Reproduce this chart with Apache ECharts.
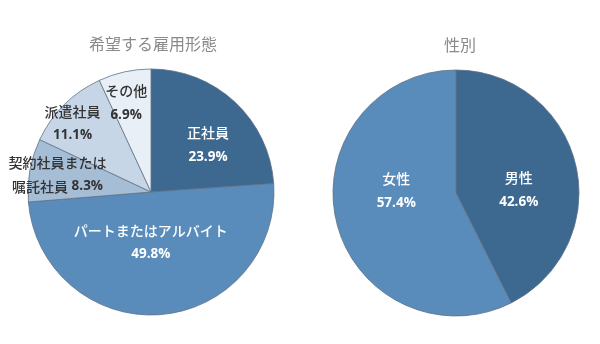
<!DOCTYPE html>
<html>
<head>
<meta charset="utf-8">
<script src="https://cdn.jsdelivr.net/npm/echarts@6/dist/echarts.min.js"></script>
<style>
  html, body { margin: 0; padding: 0; background: #fff; }
  #chart { width: 600px; height: 344px; }
</style>
</head>
<body>
<div id="chart"></div>
<script>
// Desired employment type (%)
const employmentNames = ['正社員', 'パートまたはアルバイト', '契約社員または\n嘱託社員', '派遣社員', 'その他'];
const employmentValues = [23.9, 49.8, 8.3, 11.1, 6.9];
const employmentColors = ['#3d6890', '#5a8cbb', '#a5bdd5', '#c6d6e6', '#e9eff6'];
const employmentTextColors = ['#ffffff', '#ffffff', '#333333', '#333333', '#333333'];
const employmentLabelOffsets = [[13, 0], [-5, -14], [-30, -6], [-33, -23], [-11, -26]];

// Gender (%)
const genderNames = ['男性', '女性'];
const genderValues = [42.6, 57.4];
const genderColors = ['#3d6890', '#5a8cbb'];
const genderLabelOffsets = [[0, 12], [3, -17]];

const titles = ['希望する雇用形態', '性別'];

const jpFont = '"Noto Sans CJK JP", sans-serif';
const numFont = '"Open Sans", "Noto Sans", sans-serif';

function labelRich(color) {
  return {
    n: { fontFamily: jpFont, fontSize: 14, fontWeight: 500, color: color, lineHeight: 24 },
    v: { fontFamily: numFont, fontSize: 13.5, fontWeight: 'bold', color: color, lineHeight: 24 }
  };
}

function buildData(names, values, colors, textColors, offsets) {
  return names.map((name, i) => {
    const oneLineValue = name.indexOf('\n') >= 0;
    return {
      name: name,
      value: values[i],
      itemStyle: { color: colors[i] },
      label: {
        offset: offsets[i],
        formatter: function (p) {
          const parts = p.name.split('\n');
          const lines = parts.map(s => '{n|' + s + '}');
          if (oneLineValue) {
            lines[lines.length - 1] += '{v| ' + p.value.toFixed(1) + '%}';
          } else {
            lines.push('{v|' + p.value.toFixed(1) + '%}');
          }
          return lines.join('\n');
        },
        rich: labelRich(textColors[i])
      }
    };
  });
}

const chart = echarts.init(document.getElementById('chart'));
chart.setOption({
  animation: false,
  title: [
    { text: titles[0], left: 148, top: 31, textAlign: 'center',
      textStyle: { fontFamily: jpFont, fontSize: 16, fontWeight: 'normal', color: '#8a8a8a' } },
    { text: titles[1], left: 455, top: 32, textAlign: 'center',
      textStyle: { fontFamily: jpFont, fontSize: 16, fontWeight: 'normal', color: '#8a8a8a' } }
  ],
  series: [
    {
      type: 'pie',
      center: [151, 192],
      radius: [0, 123],
      startAngle: 90,
      clockwise: true,
      avoidLabelOverlap: false,
      label: { show: true, position: 'inside', align: 'center' },
      labelLine: { show: false },
      itemStyle: { borderColor: '#5e7185', borderWidth: 0.8 },
      emphasis: { disabled: true },
      data: buildData(employmentNames, employmentValues, employmentColors, employmentTextColors, employmentLabelOffsets)
    },
    {
      type: 'pie',
      center: [456, 193],
      radius: [0, 123],
      startAngle: 90,
      clockwise: true,
      avoidLabelOverlap: false,
      label: { show: true, position: 'inside', align: 'center' },
      labelLine: { show: false },
      itemStyle: { borderColor: '#5e7185', borderWidth: 0.8 },
      emphasis: { disabled: true },
      data: buildData(genderNames, genderValues, genderColors, ['#ffffff', '#ffffff'], genderLabelOffsets)
    }
  ]
});
</script>
</body>
</html>
